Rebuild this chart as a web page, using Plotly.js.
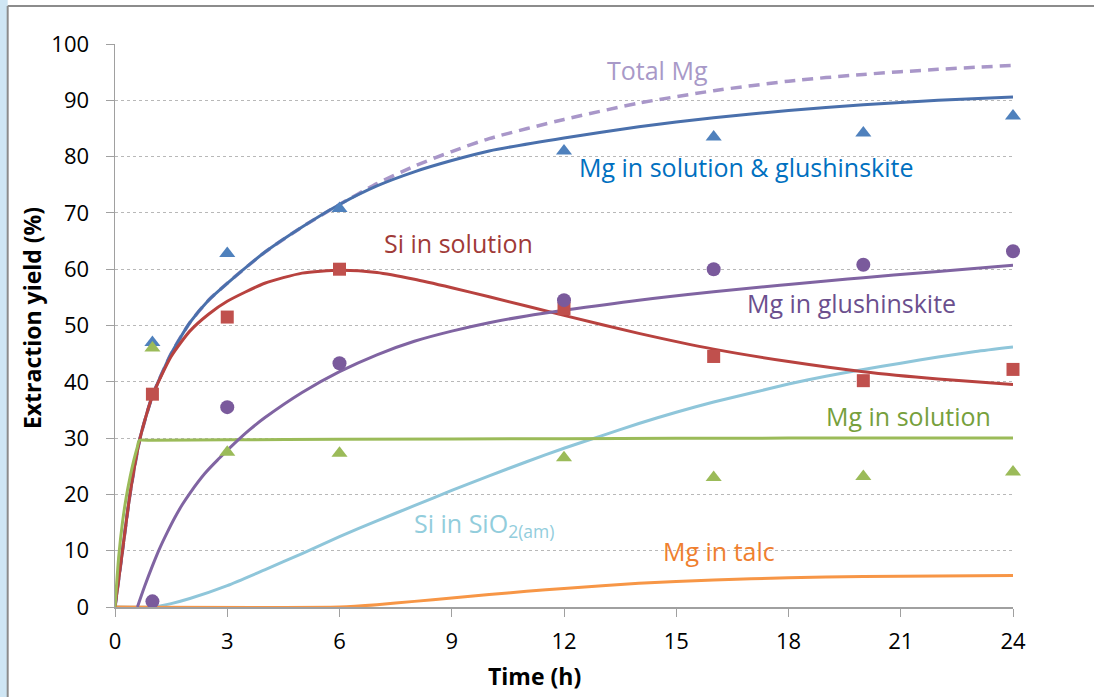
<!DOCTYPE html>
<html><head><meta charset="utf-8">
<script src="https://cdn.plot.ly/plotly-3.0.1.min.js"></script>
<style>html,body{margin:0;padding:0;background:#fff}#chart{width:1094px;height:697px}</style>
</head><body><div id="chart"></div>
<script>
// Measured points
const tMeas = [1, 3, 6, 12, 16, 20, 24];
const mgSolGlushPts = [47, 62.8, 70.8, 81, 83.5, 84.2, 87.2];
const mgSolPts = [46, 27.5, 27.3, 26.5, 23, 23.2, 24];
const siSolPts = [37.8, 51.5, 60, 53, 44.5, 40.2, 42.2];
const mgGlushPts = [1, 35.5, 43.3, 54.5, 60, 60.8, 63.2];

// Model curves
const tBlue = [0,0.2,0.4,0.67,1,1.5,2,2.5,3,4,5,6,7,8,9,10,12,14,16,18,20,22,24];
const mgSolGlushFit = [0,10,20,30,37.5,45,50.5,54.5,57.5,63,67.5,71.5,74.8,77.3,79.3,81,83.3,85.3,86.9,88.2,89.2,90,90.6];
const tTotal = [0,0.2,0.4,0.67,1,1.5,2,2.5,3,4,5,6,7,8,9,10,12,14,16,18,20,22,24];
const totalMgFit = [0,10,20,30,37.5,45,50.5,54.5,57.5,63,67.5,71.5,75.2,78.3,80.9,83.2,86.6,89.5,91.7,93.4,94.6,95.5,96.2];
const tRed = [0,0.2,0.4,0.67,1,1.5,2,2.5,3,4,5,6,7,8,9,10,12,14,16,18,20,22,24];
const siSolFit = [0,10,20,30,37.5,44.5,49,52,54.3,57.5,59.3,59.8,59.4,58.2,56.7,55.1,51.8,48.6,45.8,43.6,41.8,40.5,39.5];
const tGreen = [0,0.1,0.2,0.3,0.4,0.5,0.6,0.65,1,3,6,12,18,24];
const mgSolFit = [0,9,15,19.5,23,26,28.5,29.6,29.6,29.7,29.8,29.9,30,30];
const tPurple = [0.6,0.8,1,1.2,1.4,1.6,1.8,2,2.4,2.8,3.2,3.6,4,5,6,7,8,9,10,11,12,14,16,18,20,22,24];
const mgGlushFit = [0,3.8,7.3,10.5,13.3,15.9,18.2,20.2,23.7,26.5,29.1,31.5,33.6,38.1,41.8,44.8,47.2,49,50.5,51.7,52.7,54.5,56,57.3,58.5,59.6,60.7];
const tLightBlue = [0,1,1.5,2,3,4,5,6,7,8,9,10,11,12,13,14,15,16,17,18,19,20,21,22,23,24];
const siSiO2Fit = [0,0,0.6,1.5,3.8,6.6,9.5,12.5,15.3,18,20.7,23.3,25.8,28.2,30.4,32.6,34.6,36.4,38,39.6,41,42.2,43.3,44.4,45.4,46.2];
const tOrange = [0,6,7,8,9,10,11,12,14,16,18,20,22,24];
const mgTalcFit = [0,0,0.4,1.0,1.6,2.2,2.8,3.3,4.2,4.8,5.2,5.4,5.5,5.6];

const xTicks = [0,3,6,9,12,15,18,21,24];
const yTicks = [0,10,20,30,40,50,60,70,80,90,100];
const xTitle = 'Time (h)';
const yTitle = 'Extraction yield (%)';

const FONT = "'Open Sans', 'Noto Sans', sans-serif";
const line = (x, y, color, extra) => Object.assign({x, y, type:'scatter', mode:'lines', line:{color, width:3, shape:'spline', smoothing:0.6}, hoverinfo:'skip', cliponaxis:false}, extra||{});
const pts = (x, y, color, symbol, size) => ({x, y, type:'scatter', mode:'markers', marker:{color, symbol, size}, cliponaxis:false});

const data = [
  line(tTotal, totalMgFit, '#a997c9', {line:{color:'#a997c9', width:3.5, dash:'11px,7px', shape:'spline', smoothing:0.6}}),
  line(tBlue, mgSolGlushFit, '#4a70ac'),
  line(tLightBlue, siSiO2Fit, '#8fc6da'),
  line(tOrange, mgTalcFit, '#f79646'),
  line(tRed, siSolFit, '#b8423f'),
  line(tGreen, mgSolFit, '#9bbb59'),
  line(tPurple, mgGlushFit, '#8064a2', {line:{color:'#8064a2', width:3, shape:'spline', smoothing:1}}),
  pts(tMeas, mgSolGlushPts, '#4f81bd', 'triangle-up', 14),
  pts(tMeas, mgSolPts, '#9bbb59', 'triangle-up', 14),
  pts(tMeas, siSolPts, '#c0504d', 'square', 13),
  pts(tMeas, mgGlushPts, '#7a5a9c', 'circle', 14)
];

const ann = (x, y, text, color) => ({x, y, xref:'x', yref:'y', text, showarrow:false, xanchor:'left', yanchor:'middle', font:{family:FONT, size:25, color}});

const layout = {
  width:1094, height:697,
  margin:{l:115, r:81, t:44, b:90},
  paper_bgcolor:'#ffffff', plot_bgcolor:'#ffffff',
  showlegend:false,
  font:{family:FONT, color:'#000'},
  xaxis:{range:[0,24], tickvals:xTicks, ticktext:xTicks.map(String), showgrid:false, zeroline:false,
    showline:true, linecolor:'#a0a0a0', linewidth:1.5, ticks:'outside', ticklen:8, tickcolor:'#a0a0a0',
    ticklabelstandoff:6,
    tickfont:{family:FONT, size:22, color:'#000'}},
  yaxis:{range:[0,100], tickvals:yTicks, ticktext:yTicks.map(String), showgrid:true, gridcolor:'#b8b8b8', griddash:'3px,3px', gridwidth:1,
    zeroline:false, showline:true, linecolor:'#a0a0a0', linewidth:1.5, ticks:'outside', ticklen:8, tickcolor:'#a0a0a0',
    ticklabelstandoff:12,
    tickfont:{family:FONT, size:22, color:'#000'}},
  annotations:[
    {x:0.4677, y:-0.123, xref:'paper', yref:'paper', text:'<b>'+xTitle+'</b>', showarrow:false, xanchor:'center', yanchor:'middle', font:{family:FONT, size:23, color:'#000'}},
    {x:-0.093, y:0.514, xref:'paper', yref:'paper', text:'<b>'+yTitle+'</b>', textangle:-90, showarrow:false, xanchor:'center', yanchor:'middle', font:{family:FONT, size:23, color:'#000'}},
    ann(13.09, 95.4, 'Total Mg', '#a899c8'),
    ann(12.35, 78.2, 'Mg in solution &amp; glushinskite', '#0070c0'),
    ann(7.13, 64.7, 'Si in solution', '#a03a37'),
    ann(16.84, 54.0, 'Mg in glushinskite', '#6b4f8e'),
    ann(18.95, 33.9, 'Mg in solution', '#76a03c'),
    ann(7.94, 14.6, 'Si in SiO<sub>2(am)</sub>', '#92cddc'),
    ann(14.59, 9.9, 'Mg in talc', '#ef7f2f')
  ],
  shapes:[
    {type:'rect', xref:'paper', yref:'paper', x0:-0.1285, x1:-0.1195, y0:-0.17, y1:1.08, fillcolor:'#cfe6f4', line:{width:0}, layer:'below'},
    {type:'line', xref:'paper', yref:'paper', x0:-0.1195, x1:1.095, y0:1.0675, y1:1.0675, line:{color:'#8c8c8c', width:2}},
    {type:'line', xref:'paper', yref:'paper', x0:-0.1195, x1:-0.1195, y0:-0.17, y1:1.0675, line:{color:'#8c8c8c', width:2}}
  ]
};

Plotly.newPlot('chart', data, layout, {displayModeBar:false, staticPlot:true});
</script>
</body></html>
